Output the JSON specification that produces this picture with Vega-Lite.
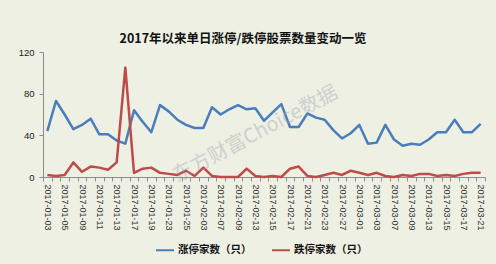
{
  "$schema": "https://vega.github.io/schema/vega-lite/v6.json",
  "width": 442,
  "height": 125,
  "autosize": {"type": "none"},
  "padding": {"left": 43, "top": 52, "right": 11, "bottom": 87},
  "background": "#EEF0E4",
  "title": {
    "text": "2017年以来单日涨停/跌停股票数量变动一览",
    "font": "Noto Sans CJK SC",
    "fontSize": 12.5,
    "fontWeight": "bold",
    "color": "#111111",
    "anchor": "middle",
    "dx": -21,
    "offset": 2
  },
  "data": {
    "values": [
      {"d": "2017-01-03", "涨停家数（只）": 44, "跌停家数（只）": 2},
      {"d": "2017-01-04", "涨停家数（只）": 73, "跌停家数（只）": 1},
      {"d": "2017-01-05", "涨停家数（只）": 60, "跌停家数（只）": 2},
      {"d": "2017-01-06", "涨停家数（只）": 46, "跌停家数（只）": 14},
      {"d": "2017-01-09", "涨停家数（只）": 50, "跌停家数（只）": 5},
      {"d": "2017-01-10", "涨停家数（只）": 56, "跌停家数（只）": 10},
      {"d": "2017-01-11", "涨停家数（只）": 41, "跌停家数（只）": 9},
      {"d": "2017-01-12", "涨停家数（只）": 41, "跌停家数（只）": 7},
      {"d": "2017-01-13", "涨停家数（只）": 35, "跌停家数（只）": 14},
      {"d": "2017-01-16", "涨停家数（只）": 32, "跌停家数（只）": 105},
      {"d": "2017-01-17", "涨停家数（只）": 64, "跌停家数（只）": 4},
      {"d": "2017-01-18", "涨停家数（只）": 53, "跌停家数（只）": 8},
      {"d": "2017-01-19", "涨停家数（只）": 43, "跌停家数（只）": 9},
      {"d": "2017-01-20", "涨停家数（只）": 69, "跌停家数（只）": 4},
      {"d": "2017-01-23", "涨停家数（只）": 63, "跌停家数（只）": 3},
      {"d": "2017-01-24", "涨停家数（只）": 55, "跌停家数（只）": 2},
      {"d": "2017-01-25", "涨停家数（只）": 50, "跌停家数（只）": 6},
      {"d": "2017-01-26", "涨停家数（只）": 47, "跌停家数（只）": 1},
      {"d": "2017-02-03", "涨停家数（只）": 47, "跌停家数（只）": 9},
      {"d": "2017-02-06", "涨停家数（只）": 67, "跌停家数（只）": 1},
      {"d": "2017-02-07", "涨停家数（只）": 60, "跌停家数（只）": 0},
      {"d": "2017-02-08", "涨停家数（只）": 65, "跌停家数（只）": 0},
      {"d": "2017-02-09", "涨停家数（只）": 69, "跌停家数（只）": 0},
      {"d": "2017-02-10", "涨停家数（只）": 65, "跌停家数（只）": 8},
      {"d": "2017-02-13", "涨停家数（只）": 66, "跌停家数（只）": 1},
      {"d": "2017-02-14", "涨停家数（只）": 54, "跌停家数（只）": 0},
      {"d": "2017-02-15", "涨停家数（只）": 62, "跌停家数（只）": 1},
      {"d": "2017-02-16", "涨停家数（只）": 70, "跌停家数（只）": 0},
      {"d": "2017-02-17", "涨停家数（只）": 48, "跌停家数（只）": 8},
      {"d": "2017-02-20", "涨停家数（只）": 48, "跌停家数（只）": 10},
      {"d": "2017-02-21", "涨停家数（只）": 61, "跌停家数（只）": 1},
      {"d": "2017-02-22", "涨停家数（只）": 57, "跌停家数（只）": 0},
      {"d": "2017-02-23", "涨停家数（只）": 55, "跌停家数（只）": 2},
      {"d": "2017-02-24", "涨停家数（只）": 45, "跌停家数（只）": 4},
      {"d": "2017-02-27", "涨停家数（只）": 37, "跌停家数（只）": 2},
      {"d": "2017-02-28", "涨停家数（只）": 42, "跌停家数（只）": 6},
      {"d": "2017-03-01", "涨停家数（只）": 50, "跌停家数（只）": 4},
      {"d": "2017-03-02", "涨停家数（只）": 32, "跌停家数（只）": 2},
      {"d": "2017-03-03", "涨停家数（只）": 33, "跌停家数（只）": 4},
      {"d": "2017-03-06", "涨停家数（只）": 50, "跌停家数（只）": 1},
      {"d": "2017-03-07", "涨停家数（只）": 36, "跌停家数（只）": 0},
      {"d": "2017-03-08", "涨停家数（只）": 30, "跌停家数（只）": 2},
      {"d": "2017-03-09", "涨停家数（只）": 32, "跌停家数（只）": 1},
      {"d": "2017-03-10", "涨停家数（只）": 31, "跌停家数（只）": 3},
      {"d": "2017-03-13", "涨停家数（只）": 36, "跌停家数（只）": 3},
      {"d": "2017-03-14", "涨停家数（只）": 43, "跌停家数（只）": 1},
      {"d": "2017-03-15", "涨停家数（只）": 43, "跌停家数（只）": 2},
      {"d": "2017-03-16", "涨停家数（只）": 55, "跌停家数（只）": 1},
      {"d": "2017-03-17", "涨停家数（只）": 43, "跌停家数（只）": 3},
      {"d": "2017-03-20", "涨停家数（只）": 43, "跌停家数（只）": 4},
      {"d": "2017-03-21", "涨停家数（只）": 51, "跌停家数（只）": 4}
    ]
  },
  "layer": [
    {
      "transform": [{"fold": ["涨停家数（只）", "跌停家数（只）"], "as": ["s", "v"]}],
      "mark": {"type": "line", "strokeWidth": 2.5, "strokeJoin": "round"},
      "encoding": {
        "x": {
          "field": "d",
          "type": "ordinal",
          "sort": null,
          "bandPosition": 0.5,
          "scale": {"type": "band", "paddingInner": 0, "paddingOuter": 0},
          "axis": {
            "title": null,
            "labelAngle": 90,
            "labelAlign": "left",
            "labelBaseline": "middle",
            "labelFont": "Liberation Sans",
            "labelFontSize": 9,
            "labelColor": "#333333",
            "labelPadding": 3,
            "labelOverlap": false,
            "tickBand": "extent",
            "tickSize": 4,
            "tickColor": "#8c8c8c",
            "domainColor": "#8c8c8c",
            "grid": false,
            "labelExpr": "indexof(['2017-01-03','2017-01-05','2017-01-09','2017-01-11','2017-01-13','2017-01-17','2017-01-19','2017-01-23','2017-01-25','2017-02-03','2017-02-07','2017-02-09','2017-02-13','2017-02-15','2017-02-17','2017-02-21','2017-02-23','2017-02-27','2017-03-01','2017-03-03','2017-03-07','2017-03-09','2017-03-13','2017-03-15','2017-03-17','2017-03-21'], datum.value) >= 0 ? datum.value : ''"
          }
        },
        "y": {
          "field": "v",
          "type": "quantitative",
          "scale": {"domain": [0, 120], "nice": false},
          "axis": {
            "title": null,
            "values": [0, 20, 40, 60, 80, 100, 120],
            "grid": false,
            "labelFont": "Liberation Sans",
            "labelFontSize": 9.5,
            "labelColor": "#222222",
            "labelPadding": 5,
            "tickSize": 4,
            "tickColor": "#8c8c8c",
            "domainColor": "#8c8c8c"
          }
        },
        "color": {
          "field": "s",
          "type": "nominal",
          "sort": ["涨停家数（只）", "跌停家数（只）"],
          "scale": {"domain": ["涨停家数（只）", "跌停家数（只）"], "range": ["#4A7EBB", "#BE4B48"]},
          "legend": {
            "title": null,
            "orient": "none",
            "legendX": 112,
            "legendY": 188,
            "direction": "horizontal",
            "symbolType": "stroke",
            "symbolSize": 324,
            "symbolStrokeWidth": 2,
            "labelFont": "Noto Sans CJK SC",
            "labelFontWeight": "bold",
            "labelFontSize": 10.5,
            "labelColor": "#111111",
            "labelOffset": 3,
            "columnPadding": 16
          }
        }
      }
    },
    {
      "data": {"values": [{"t": "东方财富Choice数据"}]},
      "mark": {"type": "text", "font": "Noto Sans CJK SC", "fontSize": 20, "angle": -28, "color": "#9ea3ab", "opacity": 0.4, "align": "center", "baseline": "middle"},
      "encoding": {
        "x": {"datum": "2017-02-13", "type": "ordinal", "bandPosition": 0.5},
        "y": {"datum": 41, "type": "quantitative"},
        "text": {"field": "t"}
      }
    }
  ],
  "config": {"view": {"stroke": null}}
}
